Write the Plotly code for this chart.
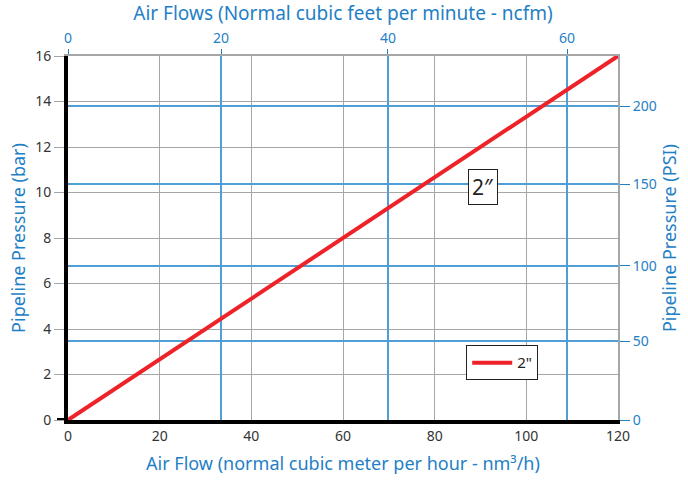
import plotly.graph_objects as go

# Data
flow_nm3h = [0, 120]
pressure_bar = [0, 16]
series_name = '2"'

x_ticks = [0, 20, 40, 60, 80, 100, 120]
y_ticks = [0, 2, 4, 6, 8, 10, 12, 14, 16]

ncfm_labels = ["0", "20", "40", "60"]
ncfm_at_nm3h = [0, 33.4, 69.8, 108.9]

psi_labels = ["0", "50", "100", "150", "200"]
psi_at_bar = [0, 3.47, 6.77, 10.37, 13.8]

BLUE = "#1f80c6"
GRID_BLUE = "#4f9ed6"
GRAY = "#a6a6a6"
FONT = "Noto Sans"

fig = go.Figure()
fig.add_trace(go.Scatter(x=flow_nm3h, y=pressure_bar, mode="lines",
                         line=dict(color="#ee2229", width=4), name=series_name,
                         xaxis="x", yaxis="y"))
fig.add_trace(go.Scatter(x=[0], y=[0], mode="markers", marker=dict(opacity=0),
                         showlegend=False, hoverinfo="skip", xaxis="x2", yaxis="y2"))

fig.add_annotation(x=90.5, y=10.25, xref="x", yref="y", text='2″', showarrow=False,
                   font=dict(size=21, color="#222", family=FONT),
                   bordercolor="#222", borderwidth=1, bgcolor="white", borderpad=3)

# black extension of the baseline to the left (tick at 0)
fig.add_shape(type="line", xref="paper", yref="y", x0=-0.02, x1=0, y0=0, y1=0,
              line=dict(color="black", width=4))

fig.update_layout(
    width=688, height=483,
    margin=dict(l=68, r=70, t=56, b=63, autoexpand=False),
    paper_bgcolor="white", plot_bgcolor="white",
    font=dict(family=FONT, size=14, color="#333"),
    showlegend=True,
    legend=dict(x=0.724, y=0.205, xanchor="left", yanchor="top",
                bordercolor="#222", borderwidth=1, bgcolor="white",
                font=dict(size=15, color="#222"), itemwidth=40),
    xaxis=dict(range=[0, 120], tickvals=x_ticks, showgrid=True, gridcolor=GRAY, gridwidth=1,
               zeroline=False, showline=True, linecolor="black", linewidth=4,
               ticks="", tickfont=dict(size=14, color="#333"), automargin=False,
               title=dict(text="Air Flow (normal cubic meter per hour - nm³/h)",
                          font=dict(size=18, color=BLUE), standoff=15)),
    yaxis=dict(range=[0, 16], tickvals=y_ticks, showgrid=True, gridcolor=GRAY, gridwidth=1,
               zeroline=False, showline=True, linecolor="black", linewidth=4,
               ticks="outside", ticklen=10, tickcolor=GRAY, tickwidth=1,
               tickfont=dict(size=14, color="#333"), automargin=False,
               title=dict(text="Pipeline Pressure (bar)",
                          font=dict(size=18, color=BLUE), standoff=6)),
    xaxis2=dict(overlaying="x", side="top", anchor="y", range=[0, 120],
                tickvals=ncfm_at_nm3h, ticktext=ncfm_labels,
                showgrid=True, gridcolor=GRID_BLUE, gridwidth=1.5, zeroline=False,
                showline=True, linecolor=GRAY, linewidth=2,
                ticks="outside", ticklen=5, tickcolor=BLUE, automargin=False,
                tickfont=dict(size=14, color=BLUE),
                title=dict(text="Air Flows (Normal cubic feet per minute - ncfm)",
                           font=dict(size=19, color=BLUE), standoff=8)),
    yaxis2=dict(overlaying="y", side="right", anchor="x", range=[0, 16],
                tickvals=psi_at_bar, ticktext=psi_labels,
                showgrid=True, gridcolor=GRID_BLUE, gridwidth=1.5, zeroline=False,
                showline=True, linecolor=GRAY, linewidth=2,
                ticks="outside", ticklen=10, tickcolor=BLUE, automargin=False,
                tickfont=dict(size=14, color=BLUE),
                title=dict(text="Pipeline Pressure (PSI)",
                           font=dict(size=18, color=BLUE), standoff=3)),
)

fig.write_html("out.html", config={"displayModeBar": False},
               post_script="document.body.style.margin='0';document.body.style.overflow='hidden';")
